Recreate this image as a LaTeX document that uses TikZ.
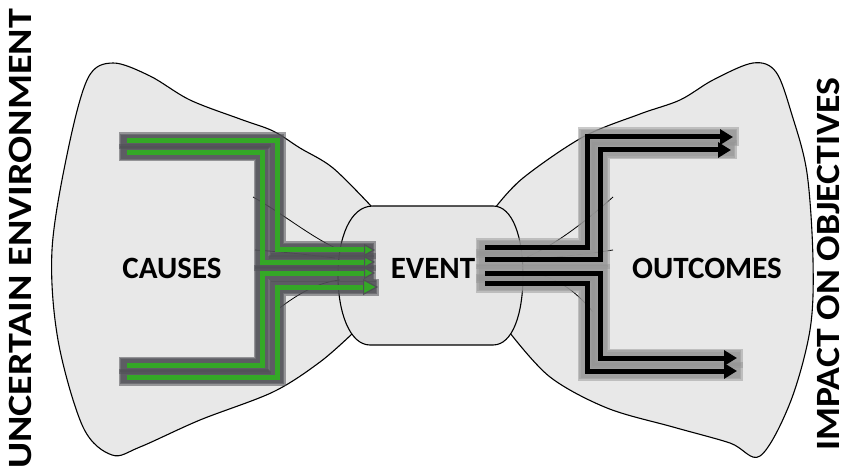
\documentclass[tikz,border=0pt]{standalone}
\usepackage{fontspec}
\setmainfont{Carlito}
\usetikzlibrary{arrows.meta}
\definecolor{lobefill}{RGB}{232,232,232}
\definecolor{evfill}{RGB}{230,230,230}
\definecolor{causegreen}{RGB}{52,168,38}
\definecolor{greenhalo}{RGB}{80,80,86}
\definecolor{blackhalo}{RGB}{150,150,150}
\tikzset{
  lobe/.style={fill=lobefill, draw=black, line width=1.1pt},
  evshape/.style={fill=evfill, draw=black, line width=1.1pt},
  thin/.style={draw=black, line width=0.8pt},
  ghalo/.style={draw=greenhalo, line width=#1, line cap=rect, opacity=0.55},
  gline/.style={draw=causegreen, line width=5pt,
    -{Triangle[length=11pt 0 0,width=12pt 0 0,fill=causegreen,color=greenhalo,line width=1.2pt]}},
  glinebig/.style={draw=causegreen, line width=5pt,
    -{Triangle[length=15pt 0 0,width=16pt 0 0,fill=causegreen,color=greenhalo,line width=1.2pt]}},
  bhalo/.style={draw=blackhalo, line width=#1, line cap=rect, opacity=0.5},
  bline/.style={draw=black, line width=5pt,
    -{Triangle[length=13pt 0 0,width=15pt 0 0,color=black,fill=black]}},
  label/.style={text=black, inner sep=0pt, font=\bfseries\fontsize{31}{31}\selectfont},
  sidelabel/.style={text=black, inner sep=0pt, rotate=90, font=\bfseries\fontsize{34}{34}\selectfont}
}
\begin{document}
\begin{tikzpicture}[x=1pt,y=-1pt]
\useasboundingbox (0,0) rectangle (855,476);

% left lobe
\draw[lobe] plot[smooth, tension=0.55] coordinates {
  (372,207) (333,168) (300,148) (273,131) (240,119) (190,100) (150,76) (113,63)
  (88,78) (68,150) (52,250) (58,340) (83,427) (112,455) (140,447) (200,420)
  (273,392) (320,362) (353,333)} -- (400,270) -- cycle;

% right lobe
\draw[lobe] plot[smooth, tension=0.55] coordinates {
  (495,208) (523,178) (583,137) (640,114) (680,100) (713,80) (753,63) (776,72)
  (792,115) (807,173) (813,260) (810,330) (790,403) (760,456) (730,443) (673,427)
  (607,408) (550,377) (510,333)} -- (460,270) -- cycle;

% central event shape with bulging sides
\draw[evshape] (373,206) -- (493,206)
  .. controls (513,206) and (523,238) .. (523,275.5)
  .. controls (523,313) and (513,345) .. (493,345) -- (370,345)
  .. controls (350,345) and (338,313) .. (338,275.5)
  .. controls (338,238) and (350,206) .. (373,206) -- cycle;

% thin strokes crossing the arrow bundles
\coordinate (t1a) at (253,197); \coordinate (t1b) at (340,250);
\coordinate (t2a) at (255,250); \coordinate (t2b) at (335,258);
\coordinate (t3a) at (277,310); \coordinate (t3b) at (340,280);
\coordinate (r1a) at (613,197); \coordinate (r1b) at (527,257);
\coordinate (r2a) at (613,250); \coordinate (r2b) at (527,259);
\coordinate (r3a) at (593,312); \coordinate (r3b) at (527,272);
\draw[thin] (t1a) .. controls (285,215) and (312,238) .. (t1b);
\draw[thin] (t2a) .. controls (285,252) and (310,255) .. (t2b);
\draw[thin] (t3a) .. controls (300,292) and (320,282) .. (t3b);
\draw[thin] (r1a) .. controls (585,222) and (555,245) .. (r1b);
\draw[thin] (r2a) .. controls (580,255) and (550,258) .. (r2b);
\draw[thin] (r3a) .. controls (575,290) and (555,276) .. (r3b);

% cause paths: start, corner, tip
\coordinate (g1s) at (127,141); \coordinate (g1k) at (277,250); \coordinate (g1e) at (375,250);
\coordinate (g2s) at (127,153); \coordinate (g2k) at (262,262); \coordinate (g2e) at (375,262);
\coordinate (g3s) at (127,365); \coordinate (g3k) at (262,273); \coordinate (g3e) at (375,273);
\coordinate (g4s) at (127,377); \coordinate (g4k) at (277,287); \coordinate (g4e) at (378,287);

\foreach \w in {17,14,12} {
  \foreach \p in {1,2,3,4} {
    \draw[ghalo=\w pt] (g\p s) -| (g\p k) -- ([xshift=-8pt]g\p e);
  }
}
\draw[gline] (g1s) -| (g1k) -- (g1e);
\draw[gline] (g2s) -| (g2k) -- (g2e);
\draw[gline] (g3s) -| (g3k) -- (g3e);
\draw[glinebig] (g4s) -| (g4k) -- (g4e);

% outcome paths: start, corner, tip
\coordinate (b1s) at (485,248); \coordinate (b1k) at (587,137); \coordinate (b1e) at (733,137);
\coordinate (b2s) at (485,259); \coordinate (b2k) at (600,150); \coordinate (b2e) at (731,150);
\coordinate (b3s) at (485,273); \coordinate (b3k) at (600,358); \coordinate (b3e) at (737,358);
\coordinate (b4s) at (485,283); \coordinate (b4k) at (587,371); \coordinate (b4e) at (737,371);

\foreach \w in {19,16,13} {
  \foreach \p in {1,2,3,4} {
    \draw[bhalo=\w pt] (b\p s) -| (b\p k) -- ([xshift=-4pt]b\p e);
  }
}
\foreach \p in {1,2,3,4} {
  \draw[bline] (b\p s) -| (b\p k) -- (b\p e);
}

% labels
\node[label] (causes) at (172,268) {CAUSES};
\node[label] (event) at (433,268) {EVENT};
\node[label] (outcomes) at (707,268) {OUTCOMES};
\node[sidelabel] (env) at (20,239) {\scalebox{1.18}[1]{UNCERTAIN ENVIRONMENT}};
\node[sidelabel] (impact) at (828,264) {\scalebox{1.11}[1]{IMPACT ON OBJECTIVES}};
\end{tikzpicture}
\end{document}
